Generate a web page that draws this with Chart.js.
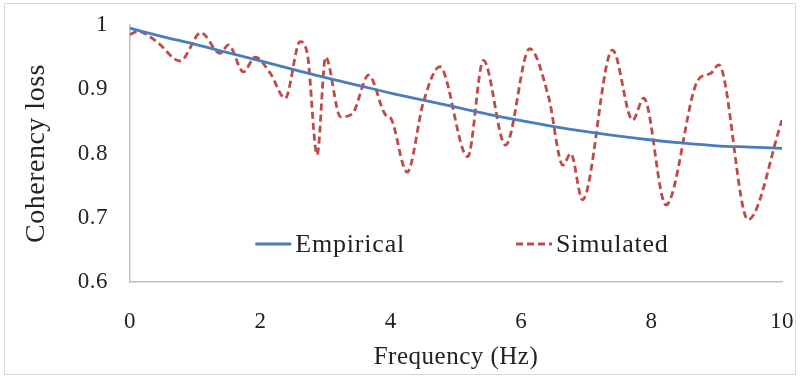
<!DOCTYPE html>
<html>
<head>
<meta charset="utf-8">
<script src="https://cdn.jsdelivr.net/npm/chart.js@4.4.1/dist/chart.umd.min.js"></script>
<style>
  html, body { margin: 0; padding: 0; background: #ffffff; }
  #wrap { position: relative; width: 801px; height: 380px; }
  #frame { position: absolute; left: 4px; top: 3px; width: 792px; height: 372px;
           border: 1px solid #d9d9d9; box-sizing: border-box; pointer-events: none; }
  canvas { position: absolute; left: 0; top: 0; }
</style>
</head>
<body>
<div id="wrap">
  <canvas id="c" width="801" height="380"></canvas>
  <div id="frame"></div>
</div>
<script>
// Empirical coherency loss model, sampled every 0.5 Hz
const empiricalFreq = [0, 0.5, 1, 1.5, 2, 2.5, 3, 3.5, 4, 4.5, 5, 5.5, 6, 6.5, 7, 7.5, 8, 8.5, 9, 9.5, 10];
const empiricalLoss = [0.995, 0.982, 0.970, 0.957, 0.944, 0.931, 0.918, 0.906, 0.894, 0.883, 0.872,
                       0.861, 0.851, 0.842, 0.834, 0.827, 0.821, 0.816, 0.812, 0.810, 0.808];

// Simulated coherency loss (turning points of the simulated record)
const simulatedFreq = [0, 0.12, 0.4, 0.77, 1.09, 1.38, 1.51, 1.74, 1.92, 2.15, 2.38, 2.61, 2.72, 2.87,
                       3.0, 3.23, 3.41, 3.66, 3.92, 4.0, 4.25, 4.5, 4.75, 5.18, 5.42, 5.76, 6.13,
                       6.42, 6.64, 6.76, 6.94, 7.40, 7.71, 7.88, 8.22, 8.71, 8.91, 9.03, 9.48, 10];
const simulatedLoss = [0.985, 0.990, 0.975, 0.944, 0.988, 0.956, 0.969, 0.927, 0.950, 0.925, 0.886,
                       0.974, 0.955, 0.798, 0.950, 0.857, 0.862, 0.922, 0.860, 0.855, 0.771, 0.880,
                       0.935, 0.795, 0.945, 0.813, 0.963, 0.888, 0.782, 0.800, 0.728, 0.961, 0.852,
                       0.886, 0.720, 0.914, 0.925, 0.938, 0.697, 0.852];

const xTicks = [0, 2, 4, 6, 8, 10];
const yTicks = [0.6, 0.7, 0.8, 0.9, 1];

const seriesNames = ['Empirical', 'Simulated'];
const blue = '#4a7ebb';
const red = '#be4b48';
const serif = '"Liberation Serif", "Times New Roman", serif';
const textSpacing = '0.5px';

const toPoints = (xs, ys) => xs.map((x, i) => ({ x: x, y: ys[i] }));

// Slightly wider letter spacing for every text the chart measures and draws
const wideText = {
  id: 'wideText',
  beforeLayout(chart) { chart.ctx.letterSpacing = textSpacing; },
  beforeDraw(chart) { chart.ctx.letterSpacing = textSpacing; }
};

// Legend drawn inside the plot area, centred near its bottom
const innerLegend = {
  id: 'innerLegend',
  afterDatasetsDraw(chart) {
    const ctx = chart.ctx;
    const area = chart.chartArea;
    const sample = 36, gapText = 4, gapItem = 111;
    ctx.save();
    ctx.font = '26px ' + serif;
    ctx.letterSpacing = '0.8px';
    ctx.textBaseline = 'middle';
    const items = chart.data.datasets.map(ds => ({
      label: ds.label, color: ds.borderColor, dash: ds.borderDash || [],
      w: sample + gapText + ctx.measureText(ds.label).width
    }));
    const total = items.reduce((s, it) => s + it.w, 0) + gapItem * (items.length - 1);
    let x = (area.left + area.right) / 2 + 6 - total / 2;
    const y = area.bottom - 38;
    items.forEach(it => {
      ctx.beginPath();
      ctx.setLineDash(it.dash);
      ctx.strokeStyle = it.color;
      ctx.lineWidth = 2.8;
      ctx.moveTo(x, y);
      ctx.lineTo(x + sample, y);
      ctx.stroke();
      ctx.setLineDash([]);
      ctx.fillStyle = '#222222';
      ctx.fillText(it.label, x + sample + gapText, y + 1);
      x += it.w + gapItem;
    });
    ctx.restore();
  }
};

new Chart(document.getElementById('c'), {
  type: 'scatter',
  data: {
    datasets: [
      {
        label: seriesNames[0],
        data: toPoints(empiricalFreq, empiricalLoss),
        showLine: true,
        borderColor: blue,
        borderWidth: 2.8,
        pointRadius: 0,
        cubicInterpolationMode: 'monotone'
      },
      {
        label: seriesNames[1],
        data: toPoints(simulatedFreq, simulatedLoss),
        showLine: true,
        borderColor: red,
        borderWidth: 2.8,
        borderDash: [7, 4],
        pointRadius: 0,
        cubicInterpolationMode: 'monotone'
      }
    ]
  },
  options: {
    responsive: false,
    animation: false,
    layout: { padding: { left: 0, right: 19, top: 25, bottom: 0 } },
    plugins: { legend: { display: false }, tooltip: { enabled: false } },
    scales: {
      x: {
        type: 'linear',
        min: 0, max: 10,
        afterBuildTicks: s => { s.ticks = xTicks.map(v => ({ value: v })); },
        afterFit: s => { s.height = 98; s.paddingLeft = 0; s.paddingRight = 0; },
        grid: { display: false, drawOnChartArea: false, drawTicks: true, tickLength: 6, tickColor: '#bfbfbf' },
        border: { display: true, color: '#bfbfbf', width: 1.5 },
        ticks: { color: '#222222', font: { family: serif, size: 23 }, padding: 20, maxRotation: 0 },
        title: { display: true, text: 'Frequency (Hz)', color: '#222222',
                 font: { family: serif, size: 25 }, padding: { top: 0, bottom: 8 } }
      },
      y: {
        type: 'linear',
        min: 0.6, max: 1,
        afterBuildTicks: s => { s.ticks = yTicks.map(v => ({ value: v })); },
        afterFit: s => { s.width = 130; s.paddingTop = 0; s.paddingBottom = 0; },
        grid: { display: false, drawOnChartArea: false, drawTicks: true, tickLength: 6, tickColor: '#bfbfbf' },
        border: { display: true, color: '#bfbfbf', width: 1.5 },
        ticks: { color: '#222222', font: { family: serif, size: 23 }, padding: 16,
                 callback: v => String(Number(v.toFixed(1))) },
        title: { display: true, text: 'Coherency loss', color: '#222222',
                 font: { family: serif, size: 28 }, padding: { top: 20, bottom: 0 } }
      }
    }
  },
  plugins: [wideText, innerLegend]
});
</script>
</body>
</html>
